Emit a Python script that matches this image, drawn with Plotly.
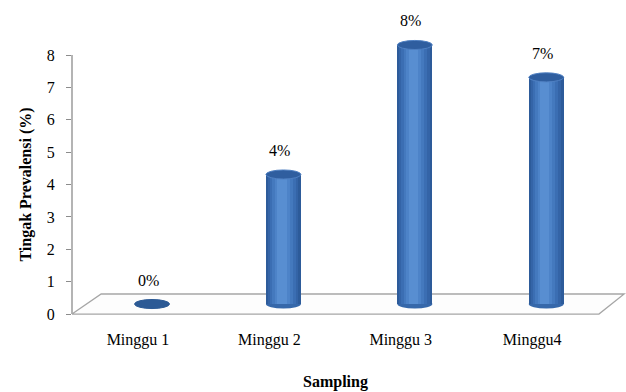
import plotly.graph_objects as go

# Data
categories = ["Minggu 1", "Minggu 2", "Minggu 3", "Minggu4"]
prevalence = [0, 4, 8, 7]          # Tingkat prevalensi (%)
y_ticks = [0, 1, 2, 3, 4, 5, 6, 7, 8]

# Pseudo-3D geometry (axis units)
positions = list(range(len(categories)))
DEPTH_DX = 0.107      # horizontal shift of the bars toward the back
FLOOR_Y = 0.31        # vertical lift of the bar bases on the floor
BAR_W = 0.266
CAP_H = 0.14          # half height of the elliptical caps
X_RANGE = [-0.502, 3.714]
Y_RANGE = [-0.06, 9.39]
FLOOR_FRONT = (-0.502, 3.508)
FLOOR_BACK = (-0.28, 3.70)
FLOOR_DEPTH = 0.62

FONT = "Liberation Serif"
bar_x = [p + DEPTH_DX for p in positions]

fig = go.Figure()

# Cylinder body: stacked narrower/lighter bars give a rounded shading
layers = [
    (1.00, 0.000, "#2D5B9A"),
    (0.88, -0.010, "#3464A7"),
    (0.74, -0.020, "#3B6EB3"),
    (0.58, -0.030, "#4479BE"),
    (0.42, -0.035, "#4D83C8"),
    (0.26, -0.040, "#588ED1"),
]
for frac, dx, col in layers:
    fig.add_trace(go.Bar(
        x=[x + dx * BAR_W for x in bar_x],
        y=prevalence,
        base=FLOOR_Y,
        width=BAR_W * frac,
        marker=dict(color=col, line=dict(width=0)),
        hoverinfo="skip",
        showlegend=False,
    ))

shapes = []
# Floor
shapes.append(dict(
    type="path", xref="x", yref="y", layer="below",
    path=(f"M {FLOOR_FRONT[0]},0 L {FLOOR_FRONT[1]},0 "
          f"L {FLOOR_BACK[1]},{FLOOR_DEPTH} L {FLOOR_BACK[0]},{FLOOR_DEPTH} Z"),
    line=dict(color="#A6A6A6", width=1.3), fillcolor="#FDFDFD",
))
# Vertical axis line (0 .. top tick)
shapes.append(dict(
    type="line", xref="paper", yref="y", x0=0, x1=0, y0=0, y1=max(y_ticks),
    line=dict(color="#8C8C8C", width=1.3), layer="below",
))
# Rounded bottoms and top caps
for x, v in zip(bar_x, prevalence):
    if v > 0:
        shapes.append(dict(
            type="circle", xref="x", yref="y", layer="below",
            x0=x - BAR_W / 2, x1=x + BAR_W / 2,
            y0=FLOOR_Y - CAP_H, y1=FLOOR_Y + CAP_H,
            fillcolor="#3668AA", line=dict(width=0),
        ))
    top = FLOOR_Y + v
    shapes.append(dict(
        type="circle", xref="x", yref="y", layer="above",
        x0=x - BAR_W / 2, x1=x + BAR_W / 2,
        y0=top - CAP_H, y1=top + CAP_H,
        fillcolor="#2F5E9F" if v > 0 else "#2C5A95",
        line=dict(color="#4F80C2" if v > 0 else "#2C5A95", width=1),
    ))

annotations = []
# Value labels
for x, v in zip(bar_x, prevalence):
    annotations.append(dict(
        x=x - 0.03, y=FLOOR_Y + v, xref="x", yref="y",
        text=f"{v}%", showarrow=False, yshift=24,
        font=dict(family=FONT, size=16, color="#000000"),
    ))
# Axis titles
annotations.append(dict(
    x=0, y=max(y_ticks) / 2, xref="paper", yref="y",
    xanchor="center", yanchor="middle", xshift=-46,
    text="<b>Tingak Prevalensi (%)</b>", textangle=-90, showarrow=False,
    font=dict(family=FONT, size=16, color="#000000"),
))
annotations.append(dict(
    x=sum(positions) / len(positions), y=0, xref="x", yref="paper", yshift=-66,
    text="<b>Sampling</b>", showarrow=False, yanchor="middle",
    font=dict(family=FONT, size=16, color="#000000"),
))

fig.update_layout(
    width=626, height=392,
    margin=dict(l=72, r=0, t=10, b=76),
    paper_bgcolor="white", plot_bgcolor="white",
    barmode="overlay", bargap=0,
    showlegend=False,
    font=dict(family=FONT, color="#000000"),
    shapes=shapes, annotations=annotations,
    xaxis=dict(
        range=X_RANGE, tickvals=positions, ticktext=categories,
        showgrid=False, zeroline=False, showline=False, ticks="",
        ticklabelstandoff=12,
        tickfont=dict(family=FONT, size=16, color="#000000"),
        fixedrange=True,
    ),
    yaxis=dict(
        range=Y_RANGE, tickvals=y_ticks,
        showgrid=False, zeroline=False, showline=False,
        ticks="outside", ticklen=5, tickcolor="#8C8C8C", tickwidth=1.3,
        ticklabelstandoff=8,
        tickfont=dict(family=FONT, size=16, color="#000000"),
        fixedrange=True,
    ),
)

fig.write_html("out.html")
